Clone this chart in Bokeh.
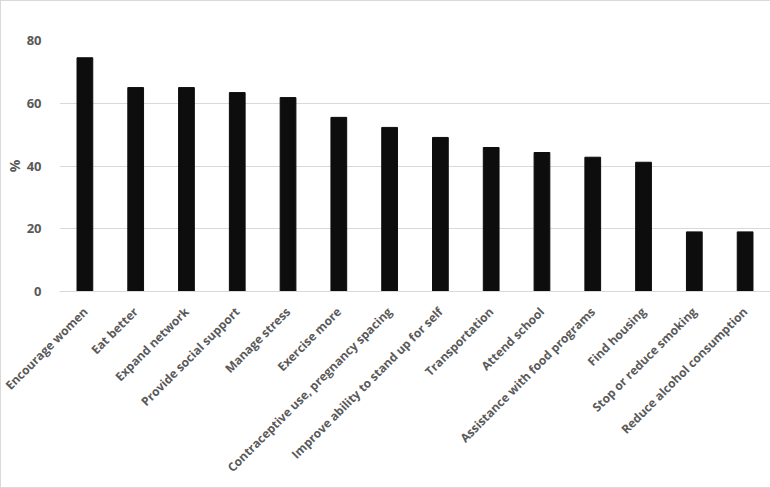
import math
from bokeh.plotting import figure
from bokeh.models import ColumnDataSource, FactorRange, Range1d, FixedTicker
from bokeh.embed import file_html
from bokeh.resources import INLINE

categories = ["Encourage women", "Eat better", "Expand network", "Provide social support",
              "Manage stress", "Exercise more", "Contraceptive use, pregnancy spacing",
              "Improve ability to stand up for self", "Transportation", "Attend school",
              "Assistance with food programs", "Find housing", "Stop or reduce smoking",
              "Reduce alcohol consumption"]
values = [74.5, 65.0, 65.0, 63.4, 61.8, 55.5, 52.3, 49.1, 45.9, 44.3, 42.8, 41.2, 19.0, 19.0]
y_ticks = [0, 20, 40, 60, 80]

src = ColumnDataSource(dict(cat=categories, val=values))

p = figure(frame_width=711, frame_height=251, output_backend="svg", toolbar_location=None,
           x_range=FactorRange(*categories, range_padding=0), y_range=Range1d(0, 80),
           min_border_left=57, min_border_right=0, min_border_top=39, min_border_bottom=196)
p.styles = {"border": "1px solid #d9d9d9"}

p.vbar(x="cat", top="val", width=0.31, source=src, fill_color="#0d0d0d", line_color="#0d0d0d")

p.outline_line_color = None
p.xgrid.grid_line_color = None
p.ygrid.grid_line_color = "#d9d9d9"
p.ygrid.grid_line_width = 1

p.yaxis.ticker = FixedTicker(ticks=y_ticks)
p.yaxis.axis_line_color = None
p.yaxis.major_tick_line_color = None
p.yaxis.minor_tick_line_color = None
p.yaxis.major_label_standoff = 12
p.yaxis.major_label_text_font = "Open Sans"
p.yaxis.major_label_text_font_style = "bold"
p.yaxis.major_label_text_font_size = "13px"
p.yaxis.major_label_text_color = "#595959"
p.yaxis.axis_label = "%"
p.yaxis.axis_label_text_font = "Open Sans"
p.yaxis.axis_label_text_font_style = "bold"
p.yaxis.axis_label_text_font_size = "14px"
p.yaxis.axis_label_text_color = "#595959"
p.yaxis.axis_label_standoff = 0

p.xaxis.axis_line_color = "#d9d9d9"
p.xaxis.major_tick_line_color = None
p.xaxis.minor_tick_line_color = None
p.xaxis.major_label_orientation = math.pi / 4
p.xaxis.major_label_standoff = 12
p.xaxis.major_label_text_font = "Open Sans"
p.xaxis.major_label_text_font_style = "bold"
p.xaxis.major_label_text_font_size = "12px"
p.xaxis.major_label_text_color = "#595959"

open("out.html", "w").write(file_html(p, INLINE))
